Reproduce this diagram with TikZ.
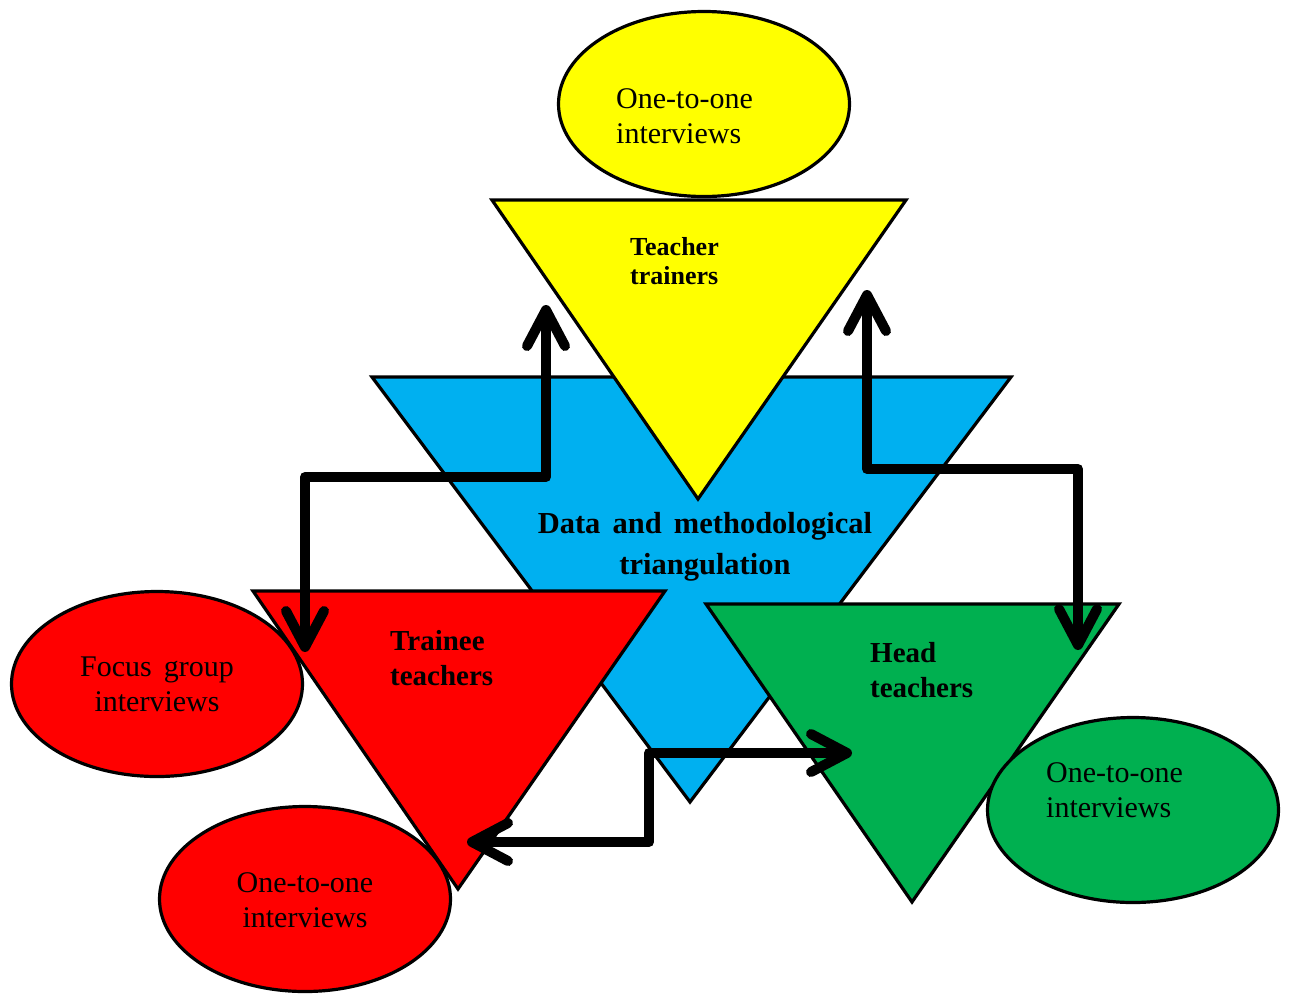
\documentclass[tikz,border=0pt]{standalone}
\usepackage{fontspec}
\setmainfont{Liberation Serif}
\usetikzlibrary{arrows.meta,shapes.geometric}
\definecolor{tyellow}{HTML}{FFFF00}
\definecolor{tblue}{HTML}{00B0F0}
\definecolor{tred}{HTML}{FF0000}
\definecolor{tgreen}{HTML}{00B050}
\newcommand{\widespaces}{\spaceskip=0.4em plus 0.1em\relax}

\begin{document}
\begin{tikzpicture}[x=1pt,y=-1pt,
  tri/.style={draw=black, line width=3.2pt, line join=miter},
  oval/.style={ellipse, draw=black, line width=3.2pt,
    minimum width=291pt, minimum height=185pt, inner sep=0pt},
  plain/.style={inner sep=0pt, font=\fontsize{30}{35}\selectfont},
  heavy/.style={inner sep=0pt, font=\fontsize{29}{35}\selectfont\bfseries},
  barb/.tip={Straight Barb[length=36pt,width=38pt,round]},
  link/.style={draw=black, line width=10pt, line join=round, barb-barb},
]
\useasboundingbox (0,0) rectangle (1290,994);

% central triangle
\filldraw[tri, fill=tblue] (372,377) -- (1011,377) -- (690,802) -- cycle;

% teacher trainers
\filldraw[tri, fill=tyellow] (492,200) -- (906,200) -- (698,499) -- cycle;
\node[oval, fill=tyellow] (ovTT) at (704,104) {};

% trainee teachers
\filldraw[tri, fill=tred] (253,591) -- (665,591) -- (458,889) -- cycle;
\node[oval, fill=tred] (ovFG) at (157,684) {};
\node[oval, fill=tred] (ovTI) at (305,899) {};

% head teachers
\filldraw[tri, fill=tgreen] (706,604) -- (1119,604) -- (912,902) -- cycle;
\node[oval, fill=tgreen] (ovHT) at (1133,810) {};

% labels (anchored on the baseline of their last line)
\node[plain, anchor=base west, align=left] (tOneA) at (616,143) {One-to-one\\interviews};
\node[heavy, anchor=base west, align=left, font=\fontsize{26}{29}\selectfont\bfseries] (tTT) at (630,284) {Teacher\\trainers};
\node[heavy, anchor=base, align=center, font=\fontsize{30.5}{41}\selectfont\bfseries\widespaces] (tDM) at (705,574) {Data and methodological\\triangulation};
\node[heavy, anchor=base west, align=left] (tTr) at (390,685) {Trainee\\teachers};
\node[heavy, anchor=base west, align=left] (tHd) at (870,697) {Head\\teachers};
\node[plain, anchor=base, align=center, font=\fontsize{30}{35}\selectfont\widespaces] (tFG) at (157,711) {Focus group\\interviews};
\node[plain, anchor=base, align=center] (tOneB) at (305,927) {One-to-one\\interviews};
\node[plain, anchor=base west, align=left] (tOneC) at (1046,817) {One-to-one\\interviews};

% arrow end points
\coordinate (trainersL) at (546,305);
\coordinate (trainersR) at (867,290);
\coordinate (traineesT) at (305,652);
\coordinate (traineesB) at (467,842);
\coordinate (headT) at (1078,650);
\coordinate (headL) at (852,753);

% connectors
\draw[link] (traineesT) -- (traineesT |- 0,477) -- (trainersL |- 0,477) -- (trainersL);
\draw[link] (trainersR) -- (trainersR |- 0,469) -- (headT |- 0,469) -- (headT);
\draw[link] (traineesB) -- (649,842) -- (649,753) -- (headL);
\end{tikzpicture}
\end{document}
